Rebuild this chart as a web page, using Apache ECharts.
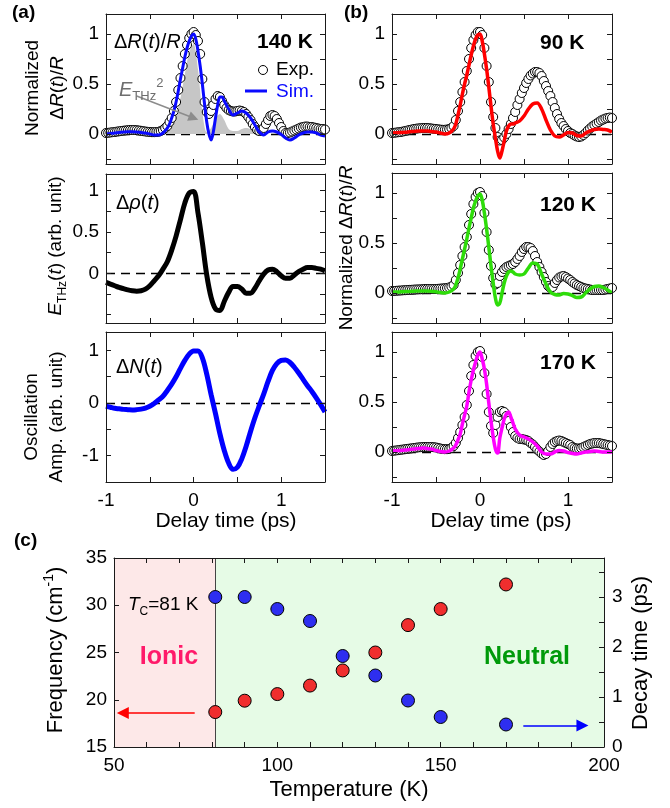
<!DOCTYPE html>
<html><head><meta charset="utf-8">
<script src="https://cdn.jsdelivr.net/npm/echarts@6/dist/echarts.min.js"></script>
<style>html,body{margin:0;padding:0;background:#fff}#c{width:670px;height:808px}</style>
</head><body><div id="c"></div>
<script>
// ---------- time grids (ps) ----------
const tExp = [-1,-0.975,-0.95,-0.925,-0.9,-0.875,-0.85,-0.825,-0.8,-0.775,
-0.75,-0.725,-0.7,-0.675,-0.65,-0.625,-0.6,-0.575,-0.55,-0.525,
-0.5,-0.475,-0.45,-0.425,-0.4,-0.375,-0.35,-0.325,-0.3,-0.275,
-0.25,-0.225,-0.2,-0.175,-0.15,-0.125,-0.1,-0.075,-0.05,-0.025,
0,0.025,0.05,0.075,0.1,0.125,0.15,0.175,0.2,0.225,
0.25,0.275,0.3,0.325,0.35,0.375,0.4,0.425,0.45,0.475,
0.5,0.525,0.55,0.575,0.6,0.625,0.65,0.675,0.7,0.725,
0.75,0.775,0.8,0.825,0.85,0.875,0.9,0.925,0.95,0.975,
1,1.025,1.05,1.075,1.1,1.125,1.15,1.175,1.2,1.225,
1.25,1.275,1.3,1.325,1.35,1.375,1.4,1.425,1.45,1.475,1.5];
const tSim = [-1,-0.95,-0.9,-0.85,-0.8,-0.75,-0.7,-0.65,-0.6,-0.55,-0.5,-0.45,-0.4,-0.35,-0.3,
-0.275,-0.25,-0.225,-0.2,-0.175,-0.15,-0.125,-0.1,-0.075,-0.05,-0.025,0,0.025,0.05,0.075,0.1,0.125,0.15,0.175,0.2,0.225,0.25,0.275,0.3,0.325,0.35,0.375,0.4,
0.45,0.5,0.55,0.6,0.65,0.7,0.75,0.8,0.85,0.9,0.95,1,1.05,1.1,1.15,1.2,1.25,1.3,1.35,1.4,1.45,1.5];
const tLine = [-1,-0.95,-0.9,-0.85,-0.8,-0.75,-0.7,-0.65,-0.6,-0.55,
-0.5,-0.45,-0.4,-0.35,-0.3,-0.25,-0.2,-0.15,-0.1,-0.05,
0,0.05,0.1,0.15,0.2,0.25,0.3,0.35,0.4,0.45,
0.5,0.55,0.6,0.65,0.7,0.75,0.8,0.85,0.9,0.95,
1,1.05,1.1,1.15,1.2,1.25,1.3,1.35,1.4,1.45,1.5];

// ---------- (a) 140 K ----------
const exp140 = [0.01,0.012,0.015,0.018,0.02,0.024,0.027,0.03,0.033,0.036,
0.038,0.04,0.04,0.04,0.038,0.035,0.032,0.028,0.025,0.022,
0.02,0.018,0.018,0.02,0.022,0.03,0.04,0.06,0.08,0.12,
0.16,0.23,0.32,0.44,0.56,0.68,0.8,0.89,0.96,1.0,
1.02,0.99,0.93,0.8,0.55,0.32,0.22,0.2,0.23,0.29,
0.35,0.38,0.37,0.33,0.29,0.26,0.24,0.23,0.225,0.225,
0.23,0.235,0.23,0.22,0.2,0.17,0.14,0.1,0.07,0.04,
0.03,0.035,0.06,0.1,0.14,0.18,0.19,0.18,0.15,0.11,
0.07,0.03,0.01,0.01,0.015,0.025,0.035,0.045,0.055,0.065,
0.07,0.075,0.075,0.07,0.07,0.065,0.06,0.055,0.05,0.05,0.045];
const sim140 = [0,0.005,0.01,0.015,0.02,0.022,0.022,0.02,0.015,0.01,0,-0.01,-0.01,0.01,0.06,
0.1,0.16,0.23,0.32,0.43,0.55,0.66,0.77,0.86,0.93,0.98,1.0,0.95,0.83,0.68,0.5,0.3,0.12,0.0,-0.06,0.02,0.16,0.29,0.37,0.37,0.33,0.29,0.25,
0.19,0.21,0.23,0.21,0.16,0.09,0.02,-0.01,0.02,0.03,0.02,-0.005,-0.04,-0.06,-0.04,-0.01,0.01,0.02,0.02,0.01,-0.01,-0.02];
const ethzSq = [0.01,0.015,0.02,0.03,0.035,0.04,0.045,0.045,0.04,0.03,
0.015,0.005,0,0.01,0.03,0.1,0.2,0.36,0.6,0.82,
0.9,0.65,0.22,0.02,0.06,0.16,0.2,0.14,0.05,0.03,
0.03,0.05,0.06,0.05,0.03,0.01,0,0,0.003,0,
0,0.003,0.003,0,0,0.004,0.005,0.004,0.002,0.001,0.001];
const ethz = [-0.11,-0.13,-0.15,-0.17,-0.185,-0.2,-0.21,-0.215,-0.21,-0.19,
-0.15,-0.09,-0.03,0.05,0.14,0.28,0.45,0.65,0.85,0.97,
0.99,0.73,0.37,-0.02,-0.29,-0.43,-0.45,-0.34,-0.23,-0.16,
-0.16,-0.19,-0.24,-0.24,-0.18,-0.09,-0.01,0.04,0.05,0.02,
-0.03,-0.06,-0.06,-0.02,0.02,0.05,0.07,0.07,0.06,0.05,0.03];
const deltaN = [-0.06,-0.08,-0.1,-0.11,-0.12,-0.125,-0.13,-0.125,-0.115,-0.095,
-0.06,-0.01,0.06,0.13,0.24,0.36,0.5,0.66,0.81,0.93,
0.99,0.99,0.86,0.55,0.16,-0.2,-0.58,-0.9,-1.14,-1.26,
-1.22,-1.06,-0.82,-0.54,-0.28,-0.05,0.17,0.41,0.62,0.75,
0.81,0.82,0.77,0.68,0.57,0.45,0.33,0.22,0.1,-0.03,-0.17];

// ---------- (b) 90 K / 120 K / 170 K ----------
const exp90 = [0.01,0.012,0.015,0.018,0.02,0.025,0.03,0.035,0.04,0.045,
0.05,0.053,0.056,0.058,0.06,0.06,0.06,0.058,0.055,0.052,
0.05,0.047,0.044,0.042,0.042,0.045,0.05,0.06,0.08,0.14,
0.23,0.32,0.42,0.52,0.63,0.75,0.86,0.94,0.99,1.02,
1.02,0.99,0.86,0.68,0.52,0.32,0.17,0.06,-0.03,-0.065,
-0.06,-0.035,0,0.05,0.1,0.16,0.22,0.29,0.35,0.41,
0.46,0.51,0.55,0.585,0.605,0.62,0.62,0.61,0.58,0.53,
0.48,0.43,0.38,0.32,0.26,0.2,0.15,0.11,0.08,0.05,
0.03,0.01,0,-0.015,-0.025,-0.03,-0.025,-0.01,0.01,0.035,
0.055,0.075,0.09,0.105,0.12,0.135,0.145,0.155,0.16,0.165,0.16];
const sim90 = [0.01,0.012,0.015,0.018,0.022,0.026,0.03,0.03,0.03,0.025,0.02,0.01,0,0.01,0.05,
0.1,0.19,0.29,0.4,0.5,0.59,0.69,0.79,0.88,0.95,0.99,1.0,0.93,0.8,0.65,0.47,0.28,0.1,-0.04,-0.17,-0.24,-0.17,-0.07,0.03,0.08,0.1,0.1,0.11,
0.13,0.18,0.25,0.3,0.31,0.25,0.14,0.04,-0.02,-0.03,-0.01,0.015,0.01,-0.015,-0.02,0.01,0.03,0.045,0.05,0.045,0.04,0.02];
const exp120 = [0.02,0.02,0.022,0.024,0.025,0.027,0.028,0.03,0.031,0.032,
0.034,0.035,0.036,0.037,0.038,0.04,0.04,0.04,0.04,0.04,
0.04,0.042,0.044,0.046,0.048,0.05,0.055,0.065,0.08,0.13,
0.2,0.28,0.37,0.46,0.56,0.68,0.79,0.89,0.96,1.0,
1.01,0.97,0.8,0.61,0.43,0.27,0.15,0.085,0.1,0.17,
0.21,0.24,0.26,0.27,0.28,0.29,0.31,0.34,0.37,0.41,
0.44,0.46,0.46,0.45,0.42,0.37,0.31,0.26,0.21,0.16,
0.11,0.07,0.05,0.06,0.1,0.13,0.155,0.165,0.17,0.16,
0.145,0.13,0.11,0.095,0.08,0.07,0.06,0.05,0.045,0.04,
0.035,0.03,0.03,0.03,0.03,0.03,0.03,0.035,0.04,0.045,0.05];
const sim120 = [0.01,0.01,0.012,0.014,0.016,0.018,0.02,0.02,0.02,0.018,0.012,0.005,0,0.01,0.04,
0.08,0.15,0.24,0.34,0.44,0.54,0.65,0.75,0.85,0.92,0.97,0.99,0.93,0.8,0.64,0.46,0.27,0.1,-0.05,-0.12,-0.1,0,0.1,0.17,0.21,0.22,0.21,0.19,
0.18,0.19,0.25,0.3,0.29,0.19,0.09,0.01,-0.015,-0.02,-0.005,-0.01,-0.025,-0.045,-0.04,0,0.04,0.065,0.07,0.055,0.03,0];
const exp170 = [0.01,0.013,0.016,0.019,0.022,0.025,0.028,0.031,0.034,0.037,
0.04,0.043,0.046,0.048,0.05,0.05,0.05,0.05,0.05,0.048,
0.045,0.04,0.035,0.03,0.028,0.028,0.03,0.04,0.06,0.09,
0.14,0.2,0.27,0.35,0.47,0.61,0.76,0.87,0.96,1.0,
1.01,0.95,0.79,0.58,0.4,0.26,0.19,0.27,0.35,0.4,
0.41,0.4,0.36,0.31,0.25,0.2,0.16,0.14,0.13,0.13,
0.125,0.12,0.11,0.09,0.075,0.05,0.025,0.005,-0.015,-0.03,
-0.02,0.01,0.05,0.08,0.1,0.11,0.115,0.11,0.1,0.09,
0.08,0.07,0.05,0.04,0.035,0.035,0.04,0.05,0.06,0.07,
0.08,0.085,0.09,0.09,0.09,0.085,0.08,0.075,0.07,0.065,0.06];
const sim170 = [0.01,0.013,0.016,0.02,0.025,0.03,0.035,0.04,0.035,0.03,0.015,0.005,0,0.01,0.04,
0.07,0.12,0.18,0.28,0.37,0.46,0.6,0.72,0.82,0.9,0.97,1.0,0.93,0.83,0.68,0.49,0.31,0.15,0.03,-0.01,0.14,0.24,0.33,0.38,0.4,0.35,0.29,0.23,
0.17,0.15,0.13,0.1,0.06,0,-0.02,-0.02,0,0.015,0.01,-0.005,-0.015,-0.02,-0.01,0,0.005,0.01,0.005,0,0,0];

// ---------- (c) temperature dependence ----------
const temps = [81,90,100,110,120,130,140,150,170];
const freq  = [18.7,19.9,20.6,21.5,23.1,25.0,27.9,29.6,32.2];
const decay = [3.0,3.0,2.76,2.52,1.82,1.43,0.93,0.6,0.45];
const Tc = 81;

// ---------- axis ticks / labels ----------
const delayTicks = [-0.5,0,0.5,1], delayLabels = [-1,0,1];
const normTicks = [-0.25,0,0.25,0.5,0.75,1], normLabels = [0,0.5,1];
const ethzTicks = [-0.5,-0.25,0,0.25,0.5,0.75,1], ethzLabels = [0,0.5,1];
const oscTicks = [-1,-0.5,0,0.5,1], oscLabels = [-1,0,1];
const tempTicks = [60,70,80,90,100,110,120,130,140,150,160,170,180,190], tempLabels = [50,100,150,200];
const freqTicks = [20,25,30], freqLabels = [15,20,25,30,35];
const decayTicks = [0.5,1,1.5,2,2.5,3,3.5], decayLabels = [0,1,2,3];

// annotation arrows (data coordinates)
const ethzArrow = [[-0.65,0.38],[0,0.16]];
const freqArrow = [[74.7,18.6],[52.7,18.6]];
const decayArrow = [[175.3,0.43],[193.4,0.43]];

const FONT = '"Liberation Sans", Arial, Helvetica, sans-serif';
const pairs = (ts, vs) => ts.map((t, i) => [t, vs[i]]);

const grids = [], xAxes = [], yAxes = [];
function axis(gi, pos, cfg, ticks, labels, labMargin) {
  return {
    type: 'value', gridIndex: gi, position: pos, min: cfg[0], max: cfg[1], z: 10,
    axisLine: {show: true, onZero: false, lineStyle: {color: '#1a1a1a', width: 1}},
    axisTick: {show: true, inside: true, length: 5, customValues: ticks, lineStyle: {color: '#1a1a1a', width: 1}},
    axisLabel: labels ? {show: true, customValues: labels, fontSize: 19, fontFamily: FONT, color: '#000', margin: labMargin} : {show: false},
    splitLine: {show: false}
  };
}
function panel(box, xr, xt, xl, yr, yt, yl, yr2, yt2, yl2) {
  const gi = grids.length;
  grids.push({left: box[0], top: box[1], width: box[2], height: box[3]});
  xAxes.push(axis(gi, 'bottom', xr, xt, xl, 9), axis(gi, 'top', xr, xt, null));
  yAxes.push(axis(gi, 'left', yr, yt, yl, 7), axis(gi, 'right', yr2 || yr, yt2 || yt, yl2 || null, 8));
  return gi;
}
panel([106, 14, 219, 150], [-1, 1.5], delayTicks, null, [-0.3, 1.2], normTicks, normLabels);
panel([106, 174, 219, 149], [-1, 1.5], delayTicks, null, [-0.6, 1.2], ethzTicks, ethzLabels);
panel([106, 332, 219, 150], [-1, 1.5], delayTicks, delayLabels, [-1.5, 1.35], oscTicks, oscLabels);
panel([392, 14, 220, 150], [-1, 1.5], delayTicks, null, [-0.3, 1.2], normTicks, normLabels);
panel([392, 173, 220, 150], [-1, 1.5], delayTicks, null, [-0.3, 1.2], normTicks, normLabels);
panel([392, 332, 220, 150], [-1, 1.5], delayTicks, delayLabels, [-0.3, 1.2], normTicks, normLabels);
panel([114, 558, 490, 189], [50, 200], tempTicks, tempLabels, [15, 35], freqTicks, freqLabels, [0, 3.78], decayTicks, decayLabels);

const zeroLine = {silent: true, z: 1, symbol: ['none', 'none'], label: {show: false},
  lineStyle: {type: [9, 6], color: '#000', width: 1.4}, data: [{yAxis: 0}]};
const circ = {color: '#fff', borderColor: '#000', borderWidth: 1, opacity: 1};
function expSeries(gi, name, vals) {
  return {type: 'scatter', name, xAxisIndex: 2 * gi, yAxisIndex: 2 * gi, data: pairs(tExp, vals),
    symbol: 'circle', symbolSize: 9, itemStyle: circ, z: 3, silent: true, markLine: zeroLine};
}
function simSeries(gi, name, ts, vals, color, width) {
  return {type: 'line', name, xAxisIndex: 2 * gi, yAxisIndex: 2 * gi, data: pairs(ts, vals),
    showSymbol: false, smooth: 0.35, lineStyle: {color, width}, z: 4, silent: true};
}
const series = [
  {type: 'line', name: 'E_THz^2', xAxisIndex: 0, yAxisIndex: 0, data: pairs(tLine, ethzSq), showSymbol: false, smooth: 0.3,
   lineStyle: {width: 0, opacity: 0}, areaStyle: {color: '#c6c6c6', opacity: 1}, z: 2, silent: true,
   markLine: {silent: true, symbol: ['none', 'triangle'], symbolSize: 10, label: {show: false},
     lineStyle: {type: 'solid', color: '#8c8c8c', width: 1.5}, data: [[{coord: ethzArrow[0]}, {coord: ethzArrow[1]}]]}},
  expSeries(0, 'Exp.', exp140),
  simSeries(0, 'Sim.', tSim, sim140, '#0a0aff', 3),
  Object.assign(simSeries(1, 'E_THz(t)', tLine, ethz, '#000', 5), {markLine: zeroLine}),
  Object.assign(simSeries(2, 'ΔN(t)', tLine, deltaN, '#0000ff', 5), {markLine: zeroLine}),
  expSeries(3, 'Exp. 90 K', exp90),
  simSeries(3, 'Sim. 90 K', tSim, sim90, '#ff0000', 3.5),
  expSeries(4, 'Exp. 120 K', exp120),
  simSeries(4, 'Sim. 120 K', tSim, sim120, '#2edc0a', 3.5),
  expSeries(5, 'Exp. 170 K', exp170),
  simSeries(5, 'Sim. 170 K', tSim, sim170, '#ff00ff', 3.5),
  {type: 'scatter', name: 'Frequency', xAxisIndex: 12, yAxisIndex: 12, data: pairs(temps, freq),
   symbolSize: 13, itemStyle: {color: '#f02e2e', borderColor: '#000', borderWidth: 1, opacity: 1}, z: 3, silent: true,
   markArea: {silent: true, z: 0, data: [
     [{xAxis: 50, itemStyle: {color: '#fde8e8', opacity: 1}}, {xAxis: Tc}],
     [{xAxis: Tc, itemStyle: {color: '#e6fbe6', opacity: 1}}, {xAxis: 200}]]},
   markLine: {silent: true, z: 1, symbol: ['none', 'none'], symbolSize: 12, label: {show: false}, data: [
     {xAxis: Tc, lineStyle: {color: '#444', width: 1, type: 'solid'}},
     [{coord: freqArrow[0], symbol: 'none'}, {coord: freqArrow[1], symbol: 'triangle', lineStyle: {color: '#ff0000', width: 1.5, type: 'solid'}}]]}},
  {type: 'scatter', name: 'Decay time', xAxisIndex: 12, yAxisIndex: 13, data: pairs(temps, decay),
   symbolSize: 13, itemStyle: {color: '#2e2ef0', borderColor: '#000', borderWidth: 1, opacity: 1}, z: 3, silent: true,
   markLine: {silent: true, symbol: ['none', 'triangle'], symbolSize: 12, label: {show: false},
     lineStyle: {color: '#0000ff', width: 1.5, type: 'solid'}, data: [[{coord: decayArrow[0]}, {coord: decayArrow[1]}]]}}
];

// ---------- texts ----------
function rich(size, color) {
  return {
    n: {fontSize: size, fontFamily: FONT, fill: color, lineHeight: size + 6},
    i: {fontSize: size, fontFamily: FONT, fill: color, fontStyle: 'italic', lineHeight: size + 6},
    b: {fontSize: size, fontFamily: FONT, fill: color, fontWeight: 'bold', lineHeight: size + 6},
    s: {fontSize: Math.round(size * 0.65), fontFamily: FONT, fill: color, verticalAlign: 'bottom', lineHeight: Math.round(size * 0.65)},
    p: {fontSize: Math.round(size * 0.65), fontFamily: FONT, fill: color, verticalAlign: 'top', lineHeight: Math.round(size * 0.65)}
  };
}
function T(x, y, text, size, opt) {
  opt = opt || {};
  const color = opt.color || '#000';
  return {type: 'text', x, y, rotation: opt.rot || 0, z: 100, silent: true,
    style: {text, rich: rich(size, color), fill: color, fontSize: size, fontFamily: FONT,
      fontWeight: opt.bold ? 'bold' : 'normal', lineHeight: size + 6,
      align: opt.align || 'left', verticalAlign: 'middle', textAlign: opt.align || 'left', textVerticalAlign: 'middle'}};
}
const R90 = Math.PI / 2;
const dRR = '{n|Δ}{i|R}{n|(}{i|t}{n|)/}{i|R}';
const graphics = [
  T(12, 13, '{b|(a)}', 19), T(344, 13, '{b|(b)}', 19), T(14, 541, '{b|(c)}', 19),
  T(114, 42, dRR, 20),
  T(313, 42, '{b|140 K}', 21, {align: 'right'}),
  {type: 'circle', z: 100, silent: true, shape: {cx: 263, cy: 70, r: 4.5}, style: {fill: '#fff', stroke: '#000', lineWidth: 1}},
  T(276, 70, '{n|Exp.}', 19),
  {type: 'line', z: 100, silent: true, shape: {x1: 245, y1: 91, x2: 267, y2: 91}, style: {stroke: '#0a0aff', lineWidth: 3}},
  T(276, 92, '{n|Sim.}', 19, {color: '#0a0aff'}),
  T(119, 90, '{i|E}{s|THz}{p|2}', 20, {color: '#6e6e6e'}),
  T(116, 203, '{n|Δ}{i|ρ}{n|(}{i|t}{n|)}', 20),
  T(116, 367, '{n|Δ}{i|N}{n|(}{i|t}{n|)}', 20),
  T(540, 43, '{b|90 K}', 21), T(540, 205, '{b|120 K}', 21), T(540, 363, '{b|170 K}', 21),
  T(128, 605, '{i|T}{s|C}{n|=81 K}', 19),
  T(169, 657, '{b|Ionic}', 25, {align: 'center', color: '#ff1a6a'}),
  T(527, 657, '{b|Neutral}', 25, {align: 'center', color: '#009a0a'}),
  T(45, 88, '{n|Normalized}\n' + dRR, 19, {align: 'center', rot: R90}),
  T(56, 246, '{i|E}{s|THz}{n|(}{i|t}{n|) (arb. unit)}', 19, {align: 'center', rot: R90}),
  T(44, 417, '{n|Oscillation}\n{n|Amp. (arb. unit)}', 19, {align: 'center', rot: R90}),
  T(347, 248, '{n|Normalized }' + dRR, 19, {align: 'center', rot: R90}),
  T(56, 650, '{n|Frequency (cm}{p|-1}{n|)}', 22, {align: 'center', rot: R90}),
  T(641, 653, '{n|Decay time (ps)}', 22, {align: 'center', rot: R90}),
  T(226, 521, '{n|Delay time (ps)}', 21, {align: 'center'}),
  T(501, 521, '{n|Delay time (ps)}', 21, {align: 'center'}),
  T(349, 790, '{n|Temperature (K)}', 22, {align: 'center'})
];

const chart = echarts.init(document.getElementById('c'), null, {renderer: 'canvas'});
chart.setOption({
  animation: false,
  backgroundColor: '#fff',
  textStyle: {fontFamily: FONT},
  grid: grids, xAxis: xAxes, yAxis: yAxes,
  series, graphic: {elements: graphics}
});
</script></body></html>
